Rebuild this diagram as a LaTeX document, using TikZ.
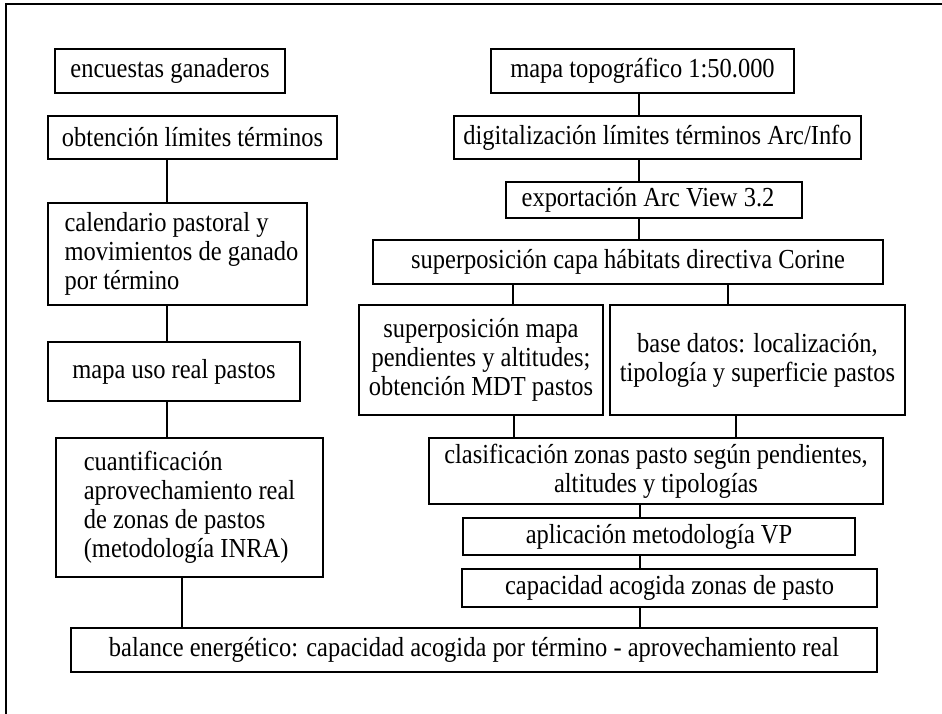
\documentclass[tikz,border=0pt]{standalone}
\usepackage{fontspec}
\setmainfont{Liberation Serif}[FakeStretch=0.89]
\begin{document}
\begin{tikzpicture}[x=1pt,y=-1pt,
  box/.style={draw, line width=1.1pt, inner sep=0pt, align=center,
    font=\fontsize{27.5}{29}\selectfont},
  conn/.style={line width=1.1pt}]
\useasboundingbox (0,0) rectangle (942,714);
\draw[line width=2pt] (6,714) -- (6,4) -- (942,4);

% left column
\node[box, minimum width=230pt, minimum height=44pt] (enc) at (170,71) {encuestas ganaderos};
\node[box, minimum width=289pt, minimum height=43pt] (obt) at (192.5,137.5) {obtención límites términos};
\node[box, align=left, minimum width=259pt, minimum height=102pt] (cal) at (177.5,254) {\hspace*{8pt}calendario pastoral y\\\hspace*{8pt}movimientos de ganado\\\hspace*{8pt}por término};
\node[box, minimum width=252pt, minimum height=59pt] (uso) at (174,371.5) {mapa uso real pastos};
\node[box, align=left, minimum width=267pt, minimum height=139pt] (cua) at (189.5,507.5) {cuantificación\\aprovechamiento real\\de zonas de pastos\\(metodología INRA)};
\node[box, minimum width=806pt, minimum height=44pt] (bal) at (474,650) {balance energético: capacidad acogida por término - aprovechamiento real};

% right column
\node[box, minimum width=303pt, minimum height=44pt] (topo) at (642.5,71) {mapa topográfico 1:50.000};
\node[box, minimum width=407pt, minimum height=43pt] (dig) at (657.5,137.5) {digitalización límites términos Arc/Info};
\node[box, minimum width=296pt, minimum height=36pt] (exp) at (654,200) {exportación Arc View 3.2\hspace*{12pt}};
\node[box, minimum width=510pt, minimum height=44pt] (sup) at (628,262) {superposición capa hábitats directiva Corine};
\node[box, minimum width=244pt, minimum height=110pt] (smap) at (481,360) {superposición mapa\\pendientes y altitudes;\\obtención MDT pastos};
\node[box, minimum width=295pt, minimum height=110pt] (bdat) at (757.5,360) {base datos: localización,\\tipología y superficie pastos};
\node[box, minimum width=454pt, minimum height=66pt] (cla) at (656,471) {clasificación zonas pasto según pendientes,\\altitudes y tipologías};
\node[box, minimum width=392pt, minimum height=37pt] (vp) at (659,536.5) {aplicación metodología VP};
\node[box, minimum width=415pt, minimum height=38pt] (cap) at (669.5,588) {capacidad acogida zonas de pasto};

% connectors
\draw[conn] (obt.south -| 167,0) -- (cal.north -| 167,0);
\draw[conn] (cal.south -| 167,0) -- (uso.north -| 167,0);
\draw[conn] (uso.south -| 167,0) -- (cua.north -| 167,0);
\draw[conn] (cua.south -| 182,0) -- (bal.north -| 182,0);
\draw[conn] (topo.south -| 639,0) -- (dig.north -| 639,0);
\draw[conn] (dig.south -| 639,0) -- (exp.north -| 639,0);
\draw[conn] (exp.south -| 639,0) -- (sup.north -| 639,0);
\draw[conn] (sup.south -| 513,0) -- (smap.north -| 513,0);
\draw[conn] (sup.south -| 728,0) -- (bdat.north -| 728,0);
\draw[conn] (smap.south -| 514,0) -- (cla.north -| 514,0);
\draw[conn] (bdat.south -| 736,0) -- (cla.north -| 736,0);
\draw[conn] (cla.south -| 640,0) -- (vp.north -| 640,0);
\draw[conn] (vp.south -| 640,0) -- (cap.north -| 640,0);
\draw[conn] (cap.south -| 640,0) -- (bal.north -| 640,0);
\end{tikzpicture}
\end{document}
